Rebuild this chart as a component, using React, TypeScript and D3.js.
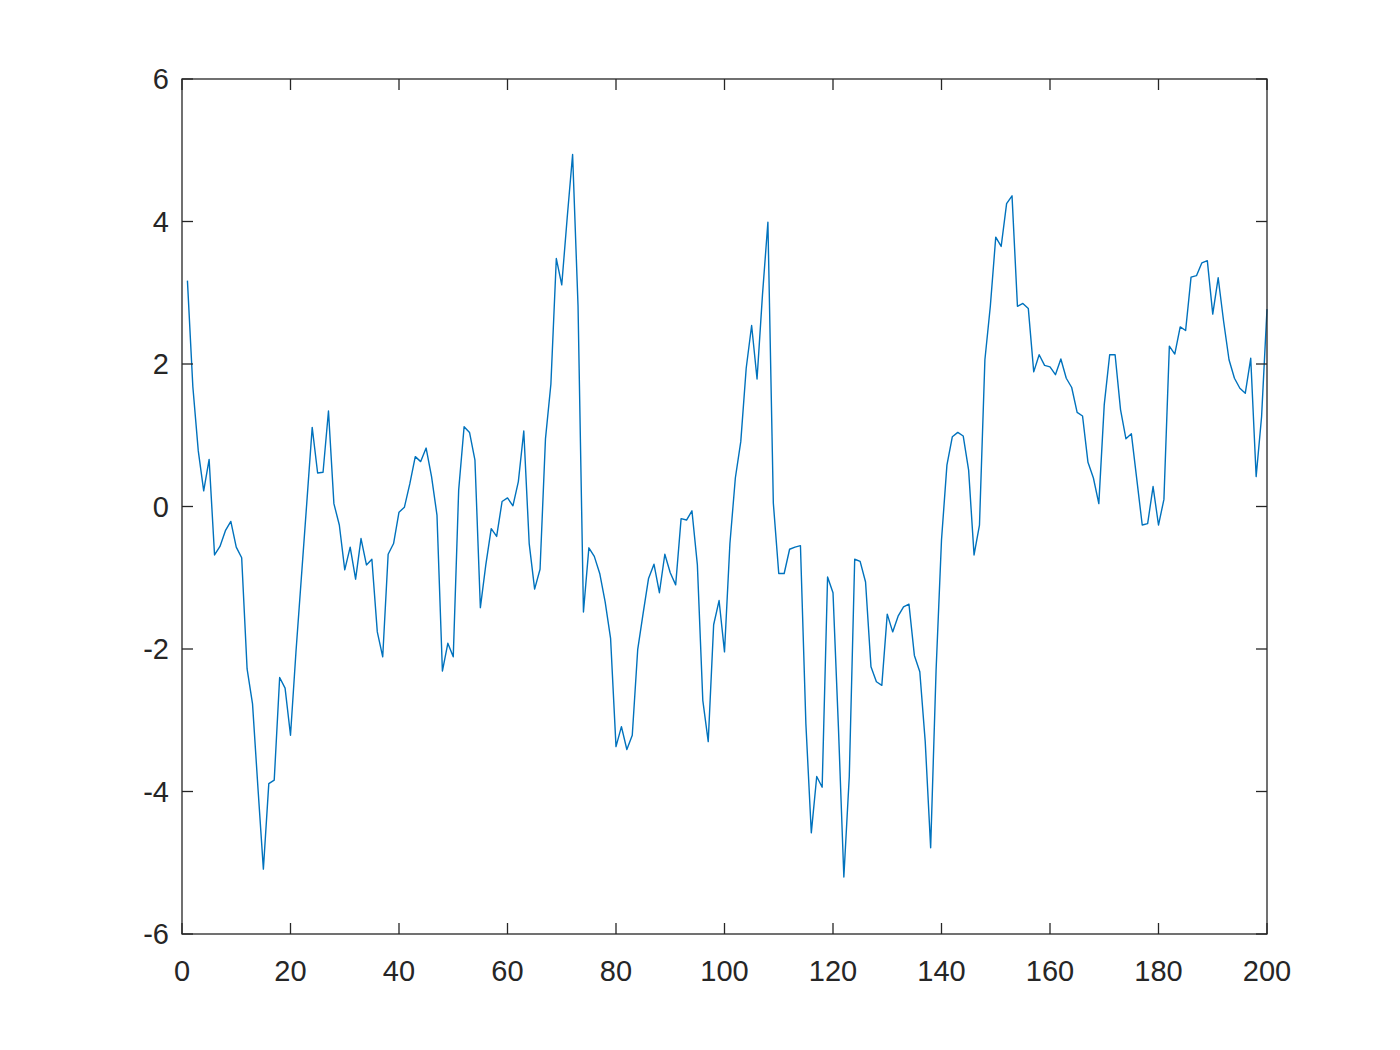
import React, { useEffect, useRef } from "react";
import * as d3 from "d3";

const values: number[] = [
  3.17, 1.68, 0.78, 0.22, 0.66, -0.68, -0.56, -0.34, -0.21, -0.57,
  -0.72, -2.28, -2.77, -3.95, -5.09, -3.89, -3.84, -2.4, -2.55, -3.21,
  -2.05, -1.0, 0.05, 1.11, 0.47, 0.48, 1.34, 0.04, -0.26, -0.89,
  -0.57, -1.02, -0.45, -0.82, -0.74, -1.76, -2.11, -0.67, -0.52, -0.08,
  -0.01, 0.32, 0.7, 0.63, 0.82, 0.42, -0.12, -2.31, -1.92, -2.11,
  0.23, 1.12, 1.04, 0.65, -1.42, -0.82, -0.31, -0.42, 0.07, 0.12,
  0.01, 0.35, 1.06, -0.52, -1.16, -0.88, 0.95, 1.72, 3.48, 3.11,
  4.05, 4.94, 2.82, -1.48, -0.58, -0.7, -0.94, -1.34, -1.85, -3.37,
  -3.09, -3.41, -3.21, -2.01, -1.5, -1.01, -0.81, -1.21, -0.67, -0.93,
  -1.1, -0.17, -0.19, -0.06, -0.82, -2.72, -3.3, -1.66, -1.32, -2.04,
  -0.52, 0.4, 0.91, 1.94, 2.54, 1.79, 2.97, 3.99, 0.05, -0.94,
  -0.94, -0.6, -0.57, -0.55, -3.05, -4.58, -3.79, -3.94, -0.99, -1.21,
  -3.1, -5.2, -3.79, -0.74, -0.77, -1.06, -2.25, -2.46, -2.51, -1.51,
  -1.76, -1.54, -1.41, -1.37, -2.09, -2.32, -3.3, -4.79, -2.3, -0.47,
  0.58, 0.98, 1.04, 0.99, 0.51, -0.68, -0.26, 2.06, 2.81, 3.78,
  3.65, 4.25, 4.36, 2.81, 2.85, 2.78, 1.89, 2.13, 1.98, 1.96,
  1.85, 2.07, 1.8, 1.67, 1.32, 1.27, 0.62, 0.4, 0.04, 1.43,
  2.13, 2.13, 1.36, 0.95, 1.02, 0.38, -0.26, -0.24, 0.28, -0.26,
  0.1, 2.25, 2.14, 2.52, 2.47, 3.22, 3.24, 3.42, 3.45, 2.7,
  3.21, 2.6, 2.06, 1.8, 1.66, 1.59, 2.08, 0.42, 1.26, 2.77,
];

const xTicks: number[] = [0, 20, 40, 60, 80, 100, 120, 140, 160, 180, 200];
const yTicks: number[] = [-6, -4, -2, 0, 2, 4, 6];

export default function App() {
  const ref = useRef<SVGSVGElement>(null);

  useEffect(() => {
    const svg = d3.select(ref.current);
    svg.selectAll("*").remove();

    const W = 1400, H = 1050;
    const left = 182, right = 1267, top = 79, bottom = 934;
    const x = d3.scaleLinear().domain([0, 200]).range([left, right]);
    const y = d3.scaleLinear().domain([-6, 6]).range([bottom, top]);
    const axisColor = "#262626";
    const font = "'Liberation Sans', Arial, Helvetica, sans-serif";
    const fs = 29;
    const tickLen = 11;

    svg.append("rect").attr("x", 0).attr("y", 0).attr("width", W).attr("height", H).attr("fill", "#ffffff");

    const line = d3
      .line<number>()
      .x((_, i) => x(i + 1))
      .y((d) => y(d));
    svg
      .append("path")
      .datum(values)
      .attr("d", line)
      .attr("fill", "none")
      .attr("stroke", "#0072BD")
      .attr("stroke-width", 1.4)
      .attr("stroke-linejoin", "round");

    const g = svg.append("g").attr("stroke", axisColor).attr("stroke-width", 1.3).attr("fill", "none");
    g.append("rect")
      .attr("x", left)
      .attr("y", top)
      .attr("width", right - left)
      .attr("height", bottom - top);

    xTicks.forEach((t) => {
      const px = x(t);
      g.append("line").attr("x1", px).attr("x2", px).attr("y1", bottom).attr("y2", bottom - tickLen);
      g.append("line").attr("x1", px).attr("x2", px).attr("y1", top).attr("y2", top + tickLen);
    });
    yTicks.forEach((t) => {
      const py = y(t);
      g.append("line").attr("x1", left).attr("x2", left + tickLen).attr("y1", py).attr("y2", py);
      g.append("line").attr("x1", right).attr("x2", right - tickLen).attr("y1", py).attr("y2", py);
    });

    const labels = svg.append("g").attr("fill", axisColor).attr("font-family", font).attr("font-size", fs);
    xTicks.forEach((t) => {
      labels
        .append("text")
        .attr("x", x(t))
        .attr("y", bottom + 47)
        .attr("text-anchor", "middle")
        .text(String(t));
    });
    yTicks.forEach((t) => {
      labels
        .append("text")
        .attr("x", left - 13)
        .attr("y", y(t))
        .attr("dy", "0.36em")
        .attr("text-anchor", "end")
        .text(String(t));
    });
  }, []);

  return (
    <svg
      ref={ref}
      width={1400}
      height={1050}
      style={{ display: "block", position: "absolute", left: 0, top: 0 }}
    />
  );
}
